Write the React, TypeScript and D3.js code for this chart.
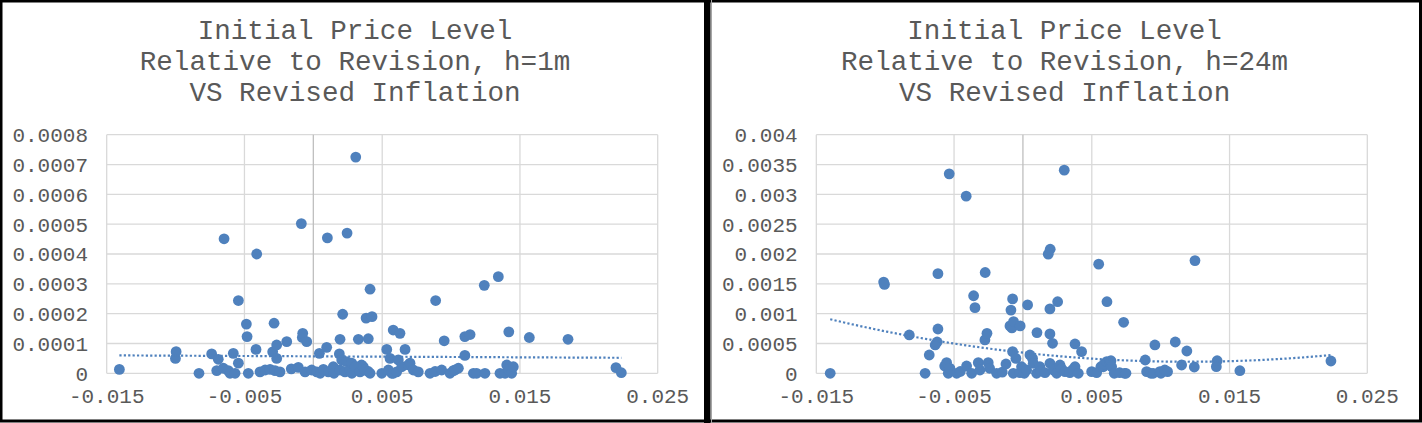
import React from "react";
import * as d3 from "d3";

// values: [revised inflation, price level gap]
const leftPoints: [number, number][] = [
  [-0.01408, 0.000013], [-0.01001, 0.00005], [-0.00996, 0.0000725], [-0.0083, 0],
  [-0.00738, 0.000065], [-0.0069, 0.000047], [-0.00701, 0.000009], [-0.00653, 0.000017],
  [-0.00648, 0.000451], [-0.00617, 0.000009], [-0.00605, 0], [-0.00568, 0],
  [-0.00581, 0.000067], [-0.00544, 0.000034], [-0.00544, 0.000244], [-0.00486, 0.000165],
  [-0.00481, 0.000123], [-0.00472, 0], [-0.00416, 0.00008], [-0.00411, 0.0004],
  [-0.00387, 0.000005], [-0.0035, 0.000011], [-0.00314, 0.000013], [-0.00278, 0.000009],
  [-0.00242, 0.000005], [-0.00295, 0.000072], [-0.00285, 0.000168], [-0.00266, 0.000095],
  [-0.00266, 0.00005], [-0.00193, 0.000106], [-0.0016, 0.000015], [-0.00109, 0.00002],
  [-0.00087, 0.000502], [-0.0008, 0.00012], [-0.00077, 0.000134], [-0.00048, 0.000106],
  [-0.0006, 0.000005], [-0.00012, 0.000011], [0.00025, 0.000005], [0.00044, 0.000067],
  [0.0005, 0], [0.00073, 0.000013], [0.00097, 0.000087], [0.00102, 0.000454],
  [0.00109, 0.000005], [0.00145, 0.000022], [0.0015, 0], [0.00189, 0.000065],
  [0.00194, 0.000114], [0.00194, 0.000011], [0.00206, 0.000045], [0.00213, 0.000198],
  [0.0023, 0.000005], [0.00242, 0.000039], [0.00245, 0.00047], [0.00266, 0.000011],
  [0.00279, 0.000034], [0.0028, 0], [0.00303, 0.000022], [0.00308, 0.000725],
  [0.00327, 0.000114], [0.00339, 0.000005], [0.0035, 0.000028], [0.00363, 0.000022],
  [0.00375, 0.000011], [0.00383, 0.000185], [0.00399, 0.000116], [0.00399, 0.000006],
  [0.00412, 0.000282], [0.00412, 0], [0.00426, 0.00019], [0.00497, 0],
  [0.00533, 0.00008], [0.00545, 0.000011], [0.00557, 0.00005], [0.00569, 0],
  [0.0058, 0.000145], [0.00581, 0], [0.00605, 0.000005], [0.00617, 0.000045],
  [0.00629, 0.000134], [0.00642, 0.000022], [0.00666, 0.00008], [0.0069, 0.000028],
  [0.00702, 0.000034], [0.00726, 0.000011], [0.00762, 0.000005], [0.00847, 0],
  [0.00884, 0.000006], [0.00888, 0.000244], [0.00932, 0.000011], [0.0095, 0.000109],
  [0.00992, 0], [0.01016, 0.000009], [0.01029, 0.000011], [0.01053, 0.000017],
  [0.011, 0.00006], [0.011, 0.000123], [0.01138, 0.00013], [0.01162, 0],
  [0.01186, 0], [0.01241, 0.000295], [0.01246, 0], [0.01343, 0.000324],
  [0.01355, 0], [0.01392, 0], [0.01404, 0.000028], [0.01416, 0.000013],
  [0.01419, 0.000139], [0.0144, 0], [0.01452, 0.000022], [0.01568, 0.00012],
  [0.01849, 0.000114], [0.02197, 0.000019], [0.02236, 0.000002],
];

const rightPoints: [number, number][] = [
  [-0.01399, 0], [-0.01011, 0.00153], [-0.01005, 0.00149], [-0.00825, 0.000643],
  [-0.0071, 0], [-0.0068, 0.000307], [-0.00637, 0.000475], [-0.00623, 0.000525],
  [-0.00617, 0.000743], [-0.00617, 0.00167], [-0.00568, 0.000122], [-0.00554, 0.000178],
  [-0.00542, 0], [-0.00535, 0.003344], [-0.0053, 0.000084], [-0.00481, 0],
  [-0.00455, 0.00003], [-0.00412, 0.00297], [-0.00409, 0.000122], [-0.00372, 0],
  [-0.00358, 0.0013], [-0.00348, 0.0011], [-0.00324, 0.000178], [-0.00312, 0.000055],
  [-0.00276, 0.00056], [-0.00274, 0.00169], [-0.00261, 0.00067], [-0.00252, 0.000178],
  [-0.00242, 0.000084], [-0.00191, 0], [-0.0015, 0.00002], [-0.00123, 0.000156],
  [-0.00094, 0.000794], [-0.00087, 0.00106], [-0.0008, 0.000761], [-0.00075, 0.001247],
  [-0.00075, 0.000363], [-0.0007, 0], [-0.00068, 0.000866], [-0.00051, 0.00025],
  [-0.00022, 0.00001], [-0.0002, 0.000794], [-0.0001, 0.00011], [0.0001, 0],
  [0.00027, 0.000055], [0.00034, 0.001146], [0.00051, 0.000307], [0.0007, 0.00025],
  [0.00075, 0.000168], [0.00099, 0], [0.00102, 0.000682], [0.00123, 0.00011],
  [0.0013, 0.00004], [0.0016, 0.00001], [0.00184, 0.001997], [0.00196, 0.000168],
  [0.00196, 0.00108], [0.00196, 0.00066], [0.00198, 0.00208], [0.00215, 0.000503],
  [0.0022, 0.000055], [0.00245, 0], [0.00252, 0.0012], [0.00269, 0.000139],
  [0.0028, 0.00008], [0.003, 0.003406], [0.00305, 0.000027], [0.00341, 0.00001],
  [0.0036, 0.00006], [0.00378, 0.00011], [0.00378, 0.000492], [0.00402, 0],
  [0.00426, 0.000363], [0.00499, 0.000027], [0.00535, 0.00001], [0.0055, 0.00183],
  [0.00566, 0.00011], [0.00583, 0.00011], [0.0059, 0.000156], [0.00608, 0.000195],
  [0.0061, 0.0012], [0.00632, 0.000195], [0.00639, 0.000211], [0.00644, 0.00011],
  [0.00663, 0], [0.00702, 0.00001], [0.00731, 0.000855], [0.00738, 0],
  [0.00748, 0], [0.00888, 0.000223], [0.00898, 0.000027], [0.00929, 0],
  [0.00946, 0], [0.00958, 0.000475], [0.00994, 0.000027], [0.01002, 0],
  [0.0103, 0.000055], [0.0105, 0.000027], [0.01106, 0.000525], [0.01152, 0.000139],
  [0.0119, 0.000374], [0.01244, 0.000106], [0.01249, 0.00189], [0.01404, 0.000111],
  [0.0141, 0.000211], [0.01575, 0.0000436], [0.02236, 0.000206],
];

// polynomial trendline coefficients [a, b, c] for a + b*x + c*x^2
const leftTrend = [0.0000569, -0.00022, 0];
const rightTrend = [0.000346, -0.02528, 1.0511];

const xTicks = [-0.015, -0.005, 0.005, 0.015, 0.025];
const xTickLabels = ["-0.015", "-0.005", "0.005", "0.015", "0.025"];
const leftYTicks = [0, 0.0001, 0.0002, 0.0003, 0.0004, 0.0005, 0.0006, 0.0007, 0.0008];
const leftYLabels = ["0", "0.0001", "0.0002", "0.0003", "0.0004", "0.0005", "0.0006", "0.0007", "0.0008"];
const rightYTicks = [0, 0.0005, 0.001, 0.0015, 0.002, 0.0025, 0.003, 0.0035, 0.004];
const rightYLabels = ["0", "0.0005", "0.001", "0.0015", "0.002", "0.0025", "0.003", "0.0035", "0.004"];

const leftTitle = ["Initial Price Level", "Relative to Revision, h=1m", "VS Revised Inflation"];
const rightTitle = ["Initial Price Level", "Relative to Revision, h=24m", "VS Revised Inflation"];

const FONT = "'Courier New', 'Liberation Mono', monospace";
const BLUE = "#4F81BD";
const TEXT = "#595959";

interface PanelProps {
  points: [number, number][];
  trend: number[];
  yTicks: number[];
  yLabels: string[];
  title: string[];
  offsetX: number;
}

function Panel({ points, trend, yTicks, yLabels, title, offsetX }: PanelProps) {
  const plot = { left: 106.7, right: 657.7, top: 134.7, bottom: 373.3 };
  const x = d3.scaleLinear().domain([-0.015, 0.025]).range([plot.left, plot.right]);
  const y = d3.scaleLinear().domain([0, yTicks[yTicks.length - 1]]).range([plot.bottom, plot.top]);

  const [xmin, xmax] = d3.extent(points, (d) => d[0]) as [number, number];
  const trendPts = d3.range(0, 81).map((i) => {
    const xv = xmin + ((xmax - xmin) * i) / 80;
    return [xv, trend[0] + trend[1] * xv + trend[2] * xv * xv] as [number, number];
  });
  const line = d3.line<[number, number]>().x((d) => x(d[0])).y((d) => y(d[1]));

  return (
    <g transform={`translate(${offsetX},0)`}>
      {title.map((t, i) => (
        <text key={i} x={355} y={38.5 + i * 31} textAnchor="middle" fontFamily={FONT}
          fontSize={27.6} fill={TEXT}>{t}</text>
      ))}
      {yTicks.map((t) => (
        <line key={"h" + t} x1={plot.left} x2={plot.right} y1={y(t)} y2={y(t)}
          stroke="#d9d9d9" strokeWidth={1.3} />
      ))}
      {xTicks.map((t) => (
        <line key={"v" + t} x1={x(t)} x2={x(t)} y1={plot.top} y2={plot.bottom}
          stroke="#d9d9d9" strokeWidth={1.3} />
      ))}
      <line x1={x(0)} x2={x(0)} y1={plot.top} y2={plot.bottom} stroke="#bfbfbf" strokeWidth={1.3} />
      {yTicks.map((t, i) => (
        <text key={"yl" + t} x={88} y={y(t)} dy="0.35em" textAnchor="end" fontFamily={FONT}
          fontSize={21} fill={TEXT}>{yLabels[i]}</text>
      ))}
      {xTicks.map((t, i) => (
        <text key={"xl" + t} x={x(t)} y={403} textAnchor="middle" fontFamily={FONT}
          fontSize={21} fill={TEXT}>{xTickLabels[i]}</text>
      ))}
      {points.map((d, i) => (
        <circle key={i} cx={x(d[0])} cy={y(d[1])} r={5.4} fill={BLUE} />
      ))}
      <path d={line(trendPts) || ""} fill="none" stroke={BLUE} strokeWidth={2.2}
        strokeDasharray="2.2 2.2" />
    </g>
  );
}

export default function App() {
  const W = 1422;
  const H = 423;
  return (
    <svg width={W} height={H} style={{ position: "absolute", left: 0, top: 0, background: "#fff" }}>
      <rect x={0} y={0} width={W} height={H} fill="#fff" />
      <Panel points={leftPoints} trend={leftTrend} yTicks={leftYTicks} yLabels={leftYLabels}
        title={leftTitle} offsetX={0} />
      <Panel points={rightPoints} trend={rightTrend} yTicks={rightYTicks} yLabels={rightYLabels}
        title={rightTitle} offsetX={709.6} />
      <rect x={1} y={1} width={W - 2.5} height={H - 3} fill="none" stroke="#000" strokeWidth={3} />
      <rect x={704} y={0} width={6.5} height={H} fill="#000" />
      <line x1={711.5} x2={711.5} y1={0} y2={H} stroke="#a6a6a6" strokeWidth={1} />
    </svg>
  );
}
